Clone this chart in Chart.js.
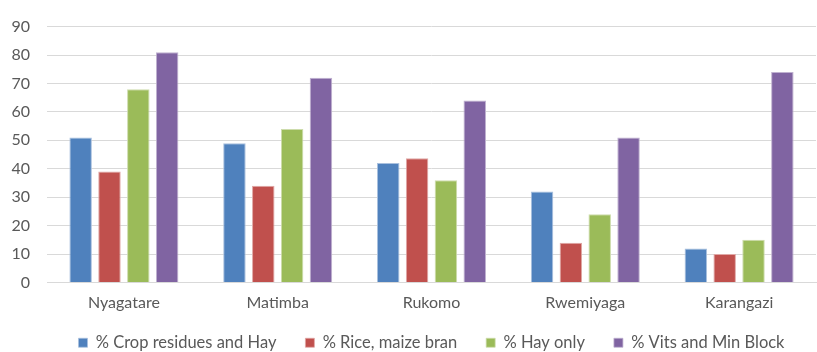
<!DOCTYPE html>
<html>
<head>
<meta charset="utf-8">
<script src="https://cdn.jsdelivr.net/npm/chart.js@4/dist/chart.umd.min.js"></script>
<style>
  html, body { margin: 0; padding: 0; background: #fff; overflow: hidden; }
  #wrap { width: 817px; height: 352px; position: relative; }
</style>
</head>
<body>
<div id="wrap"><canvas id="c"></canvas></div>
<script>
// Feed practices by sector (%)
const sectors = ['Nyagatare', 'Matimba', 'Rukomo', 'Rwemiyaga', 'Karangazi'];
const cropResiduesHay = [51, 49, 42, 32, 12];
const riceMaizeBran = [39, 34, 43.7, 14, 10];
const hayOnly = [68, 54, 36, 24, 15];
const vitsMinBlock = [81, 72, 64, 51, 74];
const yTicks = [0, 10, 20, 30, 40, 50, 60, 70, 80, 90];

const FONT = 'Lato, "Open Sans", sans-serif';
const TEXT = '#595959';

function series(label, data, color, edge) {
  return {
    label, data,
    backgroundColor: color,
    borderColor: edge,
    borderWidth: { top: 1, left: 1, right: 1, bottom: 0 },
    categoryPercentage: 0.75,
    barPercentage: 0.78
  };
}

new Chart(document.getElementById('c'), {
  type: 'bar',
  data: {
    labels: sectors,
    datasets: [
      series('% Crop residues and Hay', cropResiduesHay, '#4f81bd', '#a9c0de'),
      series('% Rice, maize bran', riceMaizeBran, '#c0504d', '#e0a8a6'),
      series('% Hay only', hayOnly, '#9bbb59', '#cddcac'),
      series('% Vits and Min Block', vitsMinBlock, '#8064a2', '#bfb1d0')
    ]
  },
  options: {
    responsive: true,
    maintainAspectRatio: false,
    animation: false,
    layout: { padding: { top: 23, right: 1, left: 0, bottom: -9 } },
    plugins: {
      tooltip: { enabled: false },
      legend: {
        position: 'bottom',
        fullSize: false,
        labels: {
          font: { family: FONT, size: 16.5 },
          color: TEXT,
          boxWidth: 9,
          boxHeight: 9,
          padding: 29
        }
      }
    },
    scales: {
      x: {
        grid: { display: false, drawTicks: false },
        border: { display: true, color: '#d9d9d9' },
        ticks: { font: { family: FONT, size: 16 }, color: TEXT, padding: 11 },
        afterFit: (scale) => {
          // compact axis band; let the category names overhang it unclipped
          scale.height = 23;
          scale._computeLabelArea = () => undefined;
        }
      },
      y: {
        min: 0, max: 90,
        afterBuildTicks: (axis) => { axis.ticks = yTicks.map(v => ({ value: v })); },
        grid: { color: '#d9d9d9', lineWidth: 1, drawTicks: false },
        border: { display: false },
        ticks: { font: { family: FONT, size: 16 }, color: TEXT, padding: 17 },
        afterFit: (scale) => { scale.width = 47; }
      }
    }
  }
});
</script>
</body>
</html>
